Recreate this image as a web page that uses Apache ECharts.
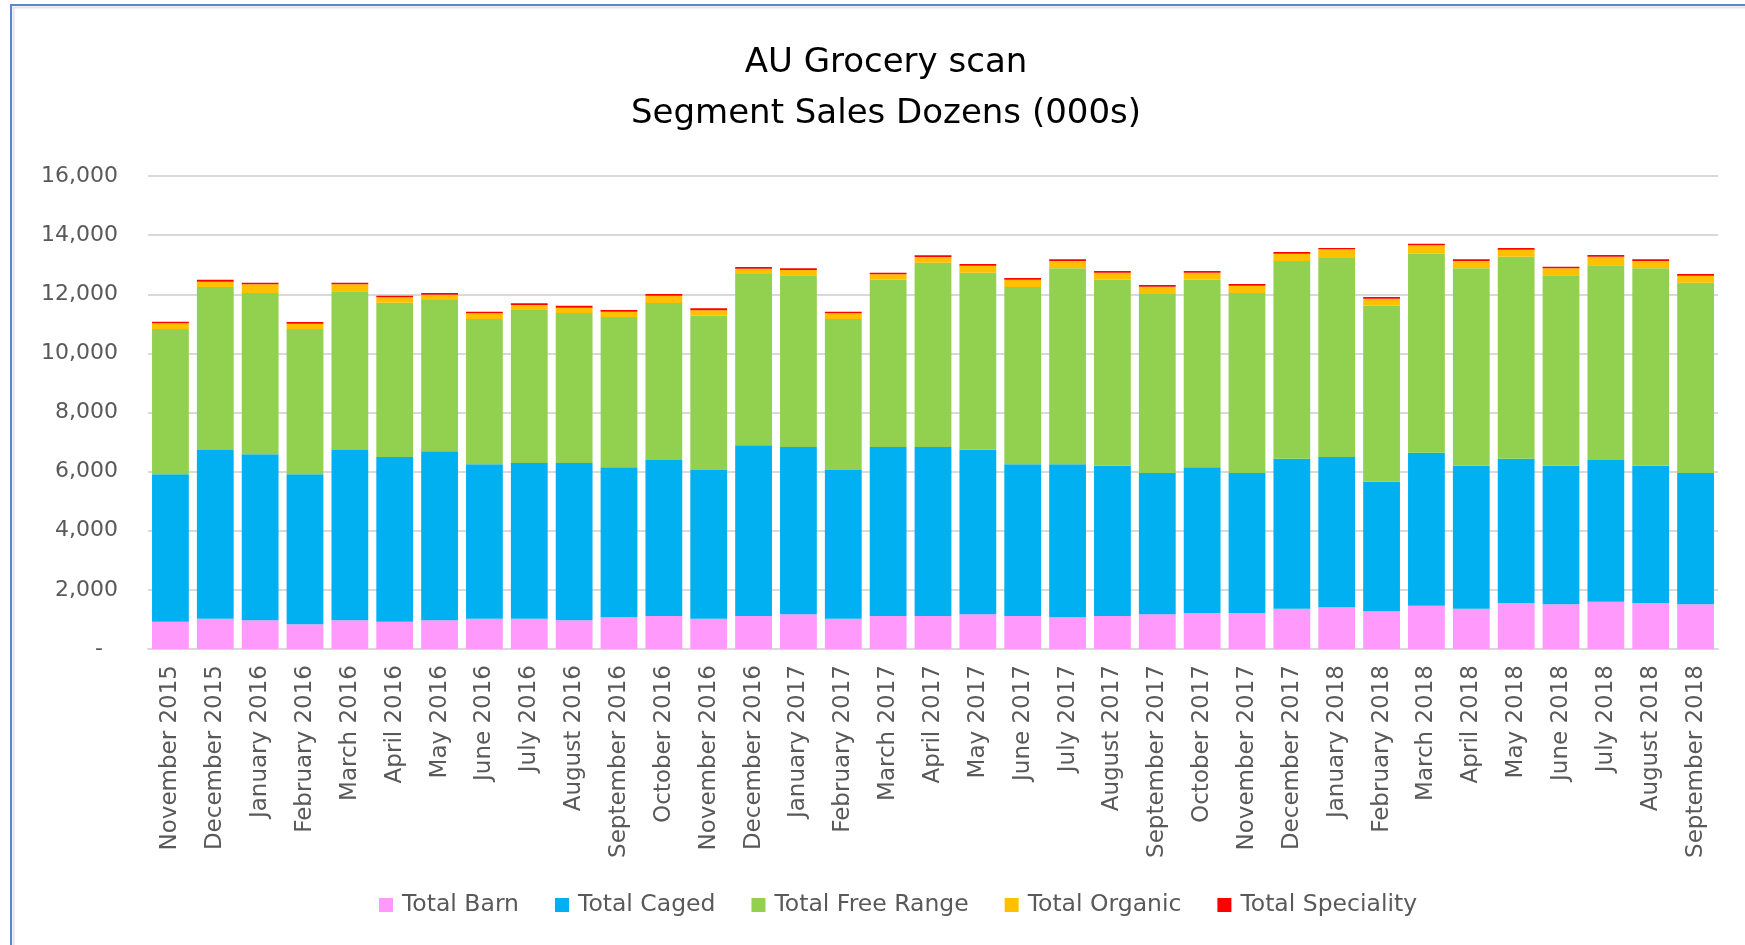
<!DOCTYPE html>
<html>
<head>
<meta charset="utf-8">
<script src="https://cdn.jsdelivr.net/npm/echarts@6/dist/echarts.min.js"></script>
<style>
html,body{margin:0;padding:0;background:#fff;}
#c{width:1745px;height:945px;}
</style>
</head>
<body>
<div id="c"></div>
<script>
const categories = ['November 2015','December 2015','January 2016','February 2016','March 2016','April 2016','May 2016','June 2016','July 2016','August 2016','September 2016','October 2016','November 2016','December 2016','January 2017','February 2017','March 2017','April 2017','May 2017','June 2017','July 2017','August 2017','September 2017','October 2017','November 2017','December 2017','January 2018','February 2018','March 2018','April 2018','May 2018','June 2018','July 2018','August 2018','September 2018'];
const barn = [925,1026,970,834,970,925,970,1026,1026,970,1071,1116,1026,1116,1173,1026,1116,1116,1173,1116,1071,1116,1173,1218,1218,1364,1410,1274,1466,1364,1556,1511,1601,1556,1511];
const caged = [4984,5706,5615,5075,5762,5570,5717,5221,5266,5322,5074,5278,5029,5774,5660,5029,5717,5717,5570,5131,5176,5086,4781,4927,4736,5075,5085,4387,5176,4838,4883,4691,4793,4646,4443];
const freeRange = [4916,5514,5458,4916,5367,5221,5119,4916,5176,5074,5086,5311,5221,5796,5807,5108,5661,6236,5988,5999,6630,6292,6055,6349,6089,6686,6732,5953,6731,6675,6833,6438,6585,6675,6438];
const organic = [190,180,293,181,237,180,180,192,169,181,180,248,180,180,181,192,180,192,237,248,248,237,248,237,248,248,293,237,282,248,236,237,293,248,237];
const speciality = [56,68,56,56,56,57,57,56,56,67,57,56,68,56,56,56,57,56,56,56,57,56,56,56,56,56,45,56,57,57,57,57,56,57,56];
const seriesNames = ['Total Barn','Total Caged','Total Free Range','Total Organic','Total Speciality'];
const seriesColors = ['#ff99fb','#00b0f0','#92d050','#ffc000','#ff0000'];
const yTicks = {min:0, max:16000, interval:2000};

const FONT = 'DejaVu Sans';
const chart = echarts.init(document.getElementById('c'), null, {renderer:'canvas'});
const dataSets = [barn, caged, freeRange, organic, speciality];
const option = {
  animation:false,
  backgroundColor:'#ffffff',
  graphic:[
    {type:'rect', shape:{x:11, y:5, width:1800, height:1000}, style:{fill:'none', stroke:'#5b86d6', lineWidth:2}, silent:true},
    {type:'rect', shape:{x:13.5, y:7.5, width:1800, height:1000}, style:{fill:'none', stroke:'#e4e4e4', lineWidth:2}, silent:true}
  ],
  title:{
    text:'AU Grocery scan\nSegment Sales Dozens (000s)',
    left:881, top:33, textAlign:'center',
    textStyle:{fontFamily:FONT, fontSize:34, fontWeight:'normal', color:'#000000', lineHeight:51}
  },
  legend:{
    data:seriesNames,
    left:374, top:888,
    itemWidth:14, itemHeight:14, itemGap:36,
    icon:'rect',
    textStyle:{fontFamily:FONT, fontSize:23.5, color:'#595959', padding:[0,0,0,4]}
  },
  grid:{left:148, right:27, top:176, bottom:296},
  xAxis:{
    type:'category', data:categories,
    axisLine:{lineStyle:{color:'#d9d9d9', width:2}},
    axisTick:{show:false},
    axisLabel:{interval:0, rotate:90, margin:16, fontFamily:FONT, fontSize:23, color:'#595959'}
  },
  yAxis:{
    type:'value', min:yTicks.min, max:yTicks.max, interval:yTicks.interval,
    axisLine:{show:false}, axisTick:{show:false},
    splitLine:{lineStyle:{color:'#d9d9d9', width:2}},
    axisLabel:{
      margin:30, fontFamily:FONT, fontSize:22, color:'#595959',
      formatter:function(v){ return v === 0 ? '{z|-}' : v.toLocaleString('en-US'); },
      rich:{z:{fontFamily:FONT, fontSize:22, color:'#595959', padding:[0,15,0,0]}}
    }
  },
  series: seriesNames.map(function(n,i){
    return {name:n, type:'bar', stack:'total', data:dataSets[i], barCategoryGap:'18%',
      itemStyle:{color:seriesColors[i]}};
  })
};
chart.setOption(option);
</script>
</body>
</html>
